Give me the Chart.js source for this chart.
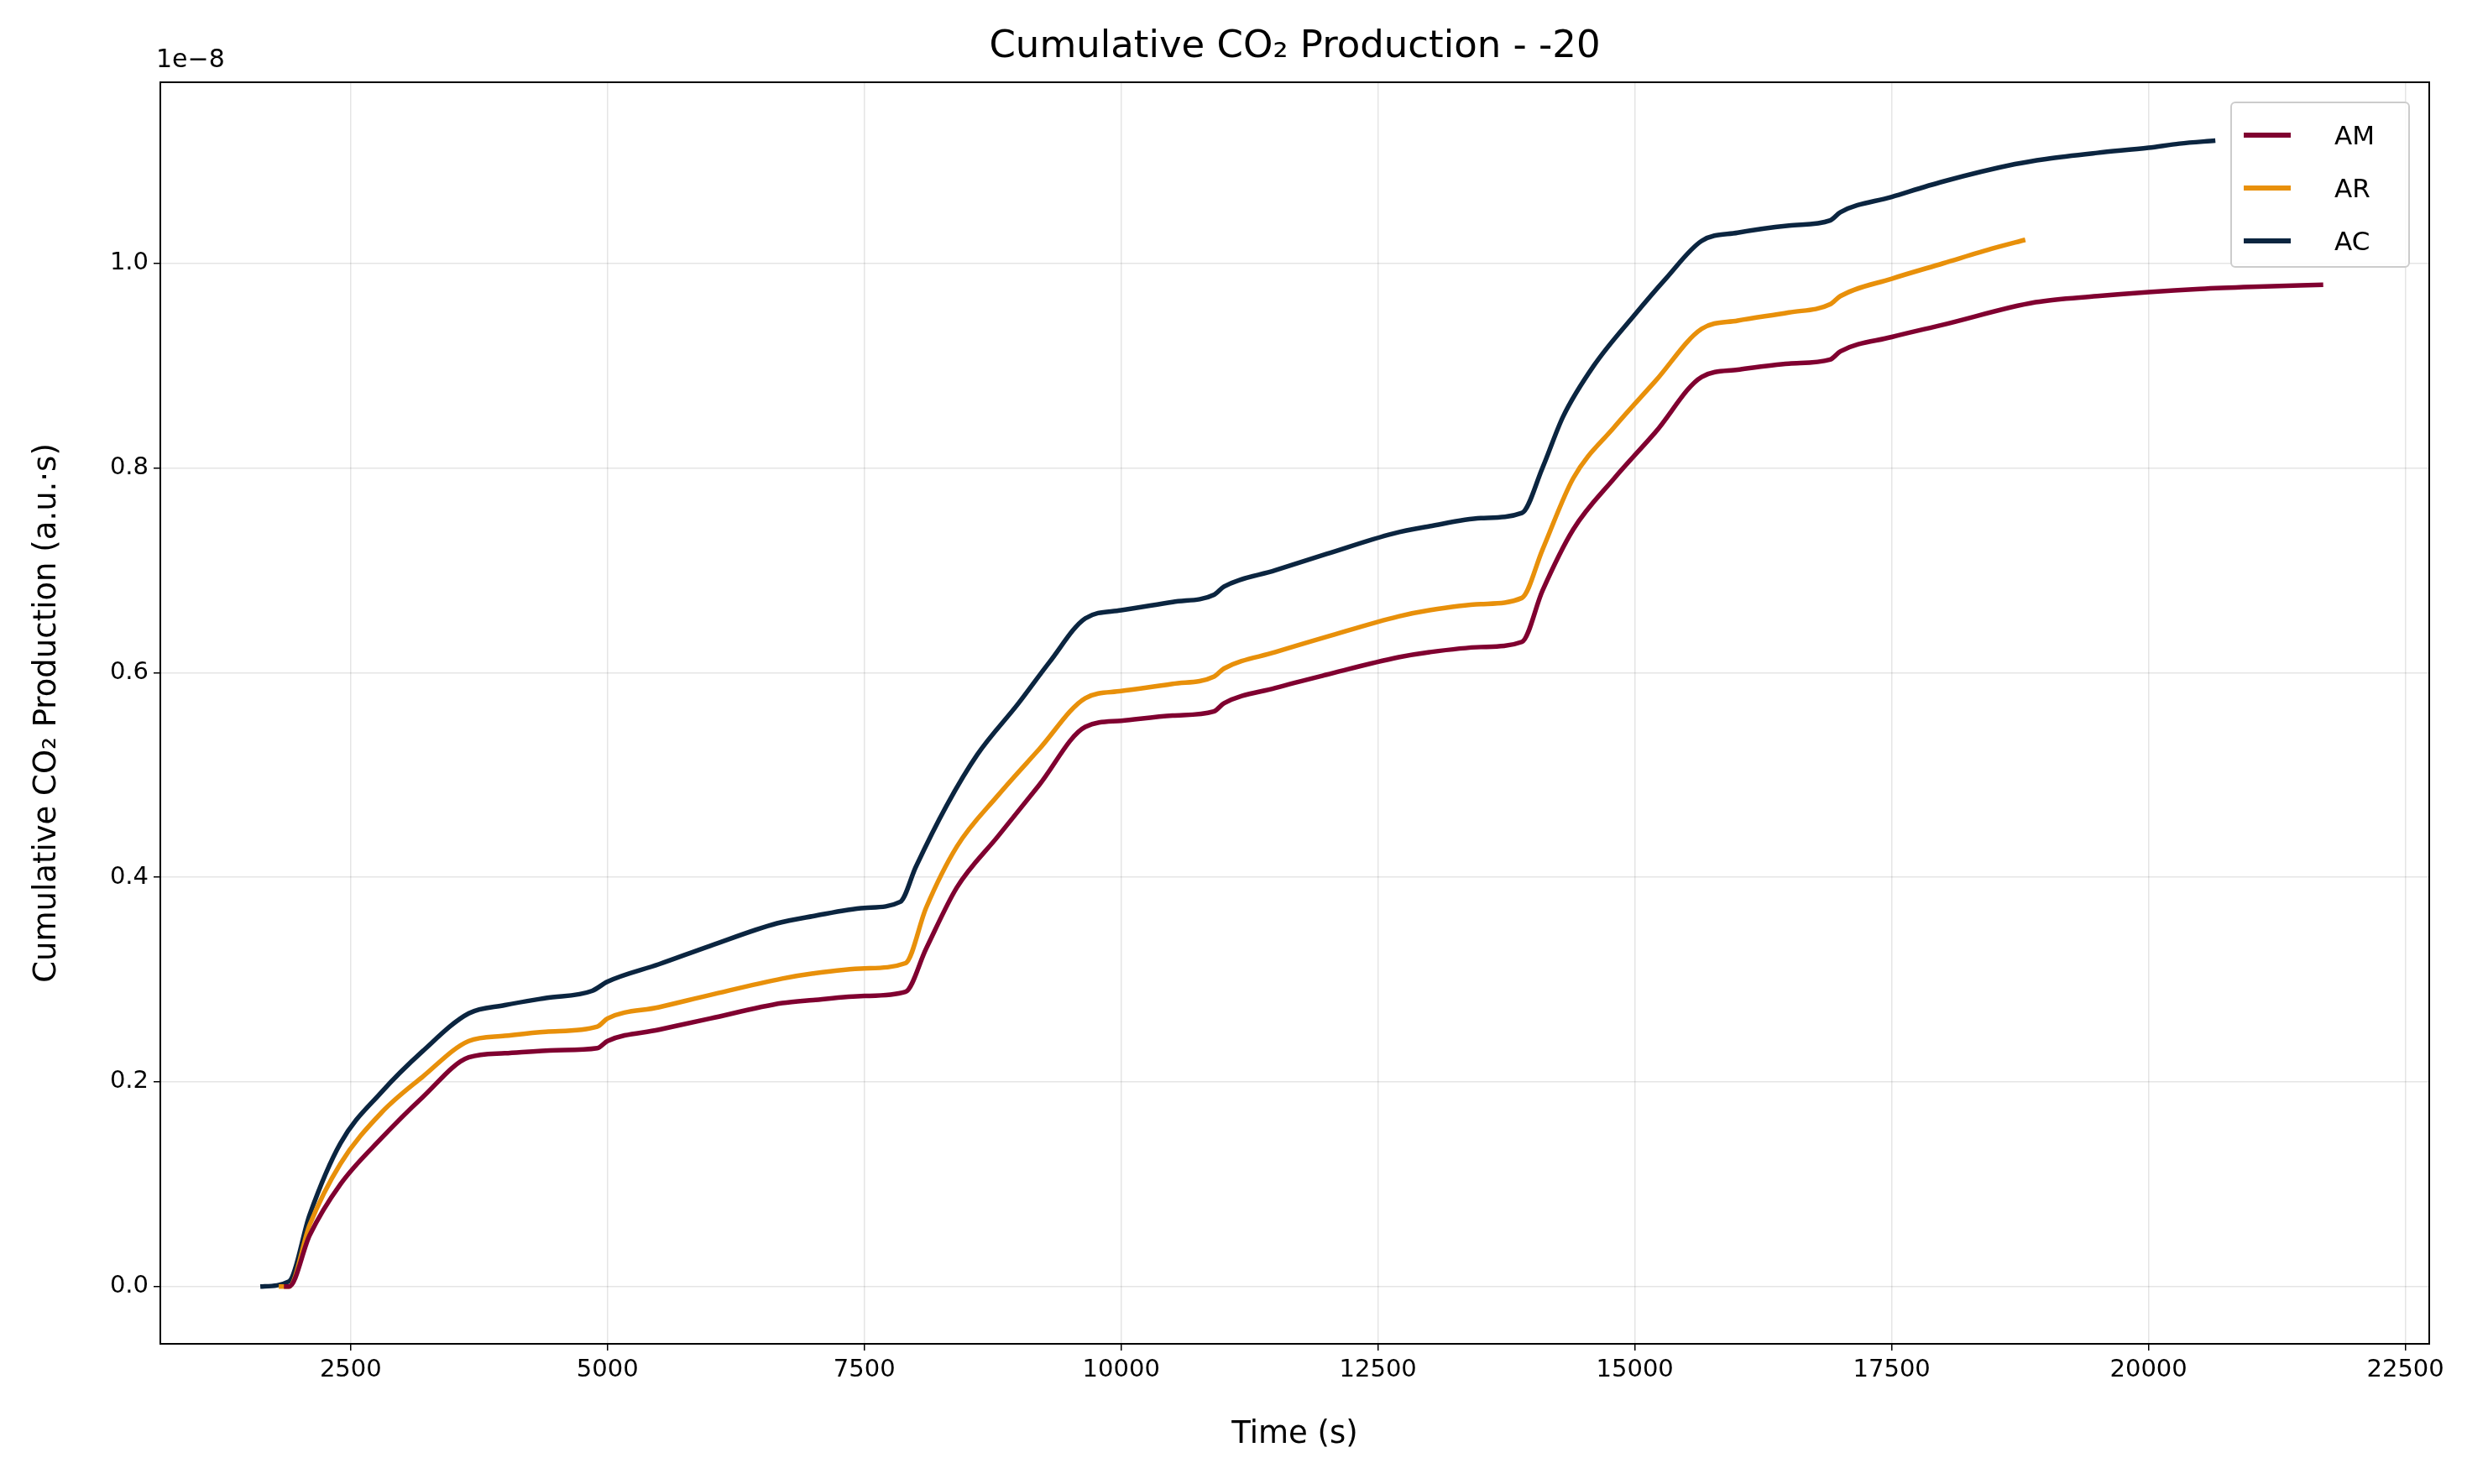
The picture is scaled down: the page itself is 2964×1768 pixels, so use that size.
<!DOCTYPE html>
<html><head><meta charset="utf-8">
<script src="https://cdn.jsdelivr.net/npm/chart.js@4/dist/chart.umd.min.js"></script>
<style>
  body { margin:0; background:#fff; font-family:"DejaVu Sans", sans-serif; }
  #wrap { position:relative; width:2964px; height:1768px; }
  #title { position:absolute; top:26px; left:191px; width:2703px; text-align:center; font-size:45px; }
  #exp { position:absolute; top:52px; left:186px; font-size:30px; }
  #legend { position:absolute; left:2657px; top:121px; width:214px; height:198px; border:2px solid #ccc;
            border-radius:6px; background:rgba(255,255,255,0.85); font-size:31px; box-sizing:border-box; padding:6px 14px; }
  #legend div { display:flex; align-items:center; height:63px; }
  #legend span.l { display:inline-block; width:56px; height:6px; margin-right:52px; }
</style></head>
<body><div id="wrap">
<canvas id="c" width="2964" height="1768"></canvas>
<div id="title">Cumulative CO₂ Production - -20</div>
<div id="exp">1e−8</div>
<div id="legend"></div>
</div>
<script>
// series: [time (s), cumulative CO2 (×1e-8)]
const amTime = [1850,1900,2100,2400,2800,3200,3650,4000,4500,4900,5000,5500,6000,6700,7000,7500,7900,8100,8400,8800,9200,9650,10000,10500,10900,11000,11500,12000,12700,13000,13500,13900,14100,14400,14800,15200,15650,16000,16500,16900,17000,17500,18000,18900,19500,20000,20500,21000,21700];
const amVals = [0,0,0.05,0.1,0.145,0.185,0.224,0.228,0.231,0.233,0.24,0.251,0.262,0.277,0.28,0.284,0.288,0.33,0.39,0.44,0.49,0.547,0.553,0.558,0.562,0.57,0.585,0.598,0.615,0.62,0.625,0.63,0.68,0.74,0.79,0.835,0.889,0.896,0.902,0.906,0.914,0.928,0.94,0.962,0.968,0.972,0.975,0.977,0.979];
const arTime = [1800,1900,2100,2400,2800,3200,3650,4000,4400,4900,5000,5500,6000,6700,7000,7500,7900,8100,8400,8800,9200,9650,10000,10500,10900,11000,11500,12000,12700,13000,13500,13900,14100,14400,14800,15200,15650,16000,16500,16900,17000,17500,18000,18500,18800];
const arVals = [0,0,0.06,0.12,0.17,0.205,0.24,0.245,0.249,0.254,0.262,0.273,0.285,0.301,0.306,0.311,0.316,0.37,0.43,0.48,0.525,0.575,0.582,0.589,0.596,0.604,0.62,0.635,0.655,0.661,0.667,0.673,0.72,0.79,0.84,0.885,0.936,0.944,0.952,0.96,0.968,0.985,1.0,1.015,1.023];
const acTime = [1620,1900,2100,2400,2800,3200,3650,4000,4400,4850,5000,5500,6000,6650,7000,7500,7850,8000,8300,8600,9000,9300,9650,10000,10500,10900,11000,11500,12000,12650,13000,13500,13900,14100,14300,14600,15000,15300,15650,16000,16500,16900,17000,17500,18000,18700,19000,19500,20000,20300,20650];
const acVals = [0,0.005,0.07,0.14,0.19,0.23,0.267,0.275,0.282,0.289,0.298,0.315,0.333,0.355,0.362,0.37,0.376,0.41,0.47,0.52,0.57,0.61,0.653,0.661,0.669,0.676,0.684,0.7,0.716,0.736,0.743,0.751,0.756,0.80,0.85,0.90,0.95,0.985,1.022,1.03,1.037,1.042,1.05,1.065,1.08,1.097,1.102,1.108,1.113,1.117,1.12];
const seriesNames = ['AM','AR','AC'];
const seriesColors = ['#800030','#e8900a','#0b2540'];
const xTicks = [2500,5000,7500,10000,12500,15000,17500,20000,22500];
const yTicks = [0,0.2,0.4,0.6,0.8,1.0];

const pairs = (t, v) => t.map((x, i) => ({ x, y: v[i] }));
const allData = [pairs(amTime, amVals), pairs(arTime, arVals), pairs(acTime, acVals)];

document.getElementById('legend').innerHTML = seriesNames.map((n, i) =>
  `<div><span class="l" style="background:${seriesColors[i]}"></span>${n}</div>`).join('');

const frame = {
  id: 'frame',
  afterDraw(chart) {
    const a = chart.chartArea, ctx = chart.ctx;
    ctx.save(); ctx.strokeStyle = '#000'; ctx.lineWidth = 2;
    ctx.strokeRect(a.left, a.top, a.right - a.left, a.bottom - a.top);
    ctx.restore();
  }
};

const font = { family: 'DejaVu Sans', size: 29 };
const titleFont = { family: 'DejaVu Sans', size: 37 };
new Chart(document.getElementById('c'), {
  type: 'line',
  data: {
    datasets: allData.map((d, i) => ({
      label: seriesNames[i], data: d, borderColor: seriesColors[i],
      borderWidth: 5.5, pointRadius: 0, cubicInterpolationMode: 'monotone', fill: false
    }))
  },
  options: {
    responsive: false, animation: false,
    layout: { padding: { top: 98, right: 70, left: 30, bottom: 32 } },
    plugins: { legend: { display: false }, tooltip: { enabled: false } },
    scales: {
      x: {
        type: 'linear', min: 647, max: 22732,
        afterBuildTicks: s => { s.ticks = xTicks.map(v => ({ value: v })); },
        afterFit: s => { s.height = 135; },
        ticks: { font, color: '#000', maxRotation: 0, padding: 6, callback: v => String(v) },
        grid: { color: 'rgba(0,0,0,0.1)', tickColor: '#000', tickLength: 8, lineWidth: 1.5 },
        border: { color: '#000', width: 2 },
        title: { display: true, text: 'Time (s)', font: titleFont, color: '#000', padding: { top: 10 } }
      },
      y: {
        min: -0.056, max: 1.177,
        afterBuildTicks: s => { s.ticks = yTicks.map(v => ({ value: v })); },
        afterFit: s => { s.width = 161; },
        ticks: { font, color: '#000', padding: 6, callback: v => v.toFixed(1) },
        grid: { color: 'rgba(0,0,0,0.1)', tickColor: '#000', tickLength: 8, lineWidth: 1.5 },
        border: { color: '#000', width: 2 },
        title: { display: true, text: 'Cumulative CO₂ Production (a.u.·s)', font: titleFont, color: '#000', padding: { bottom: 8 } }
      }
    }
  },
  plugins: [frame]
});
</script>
</body></html>
